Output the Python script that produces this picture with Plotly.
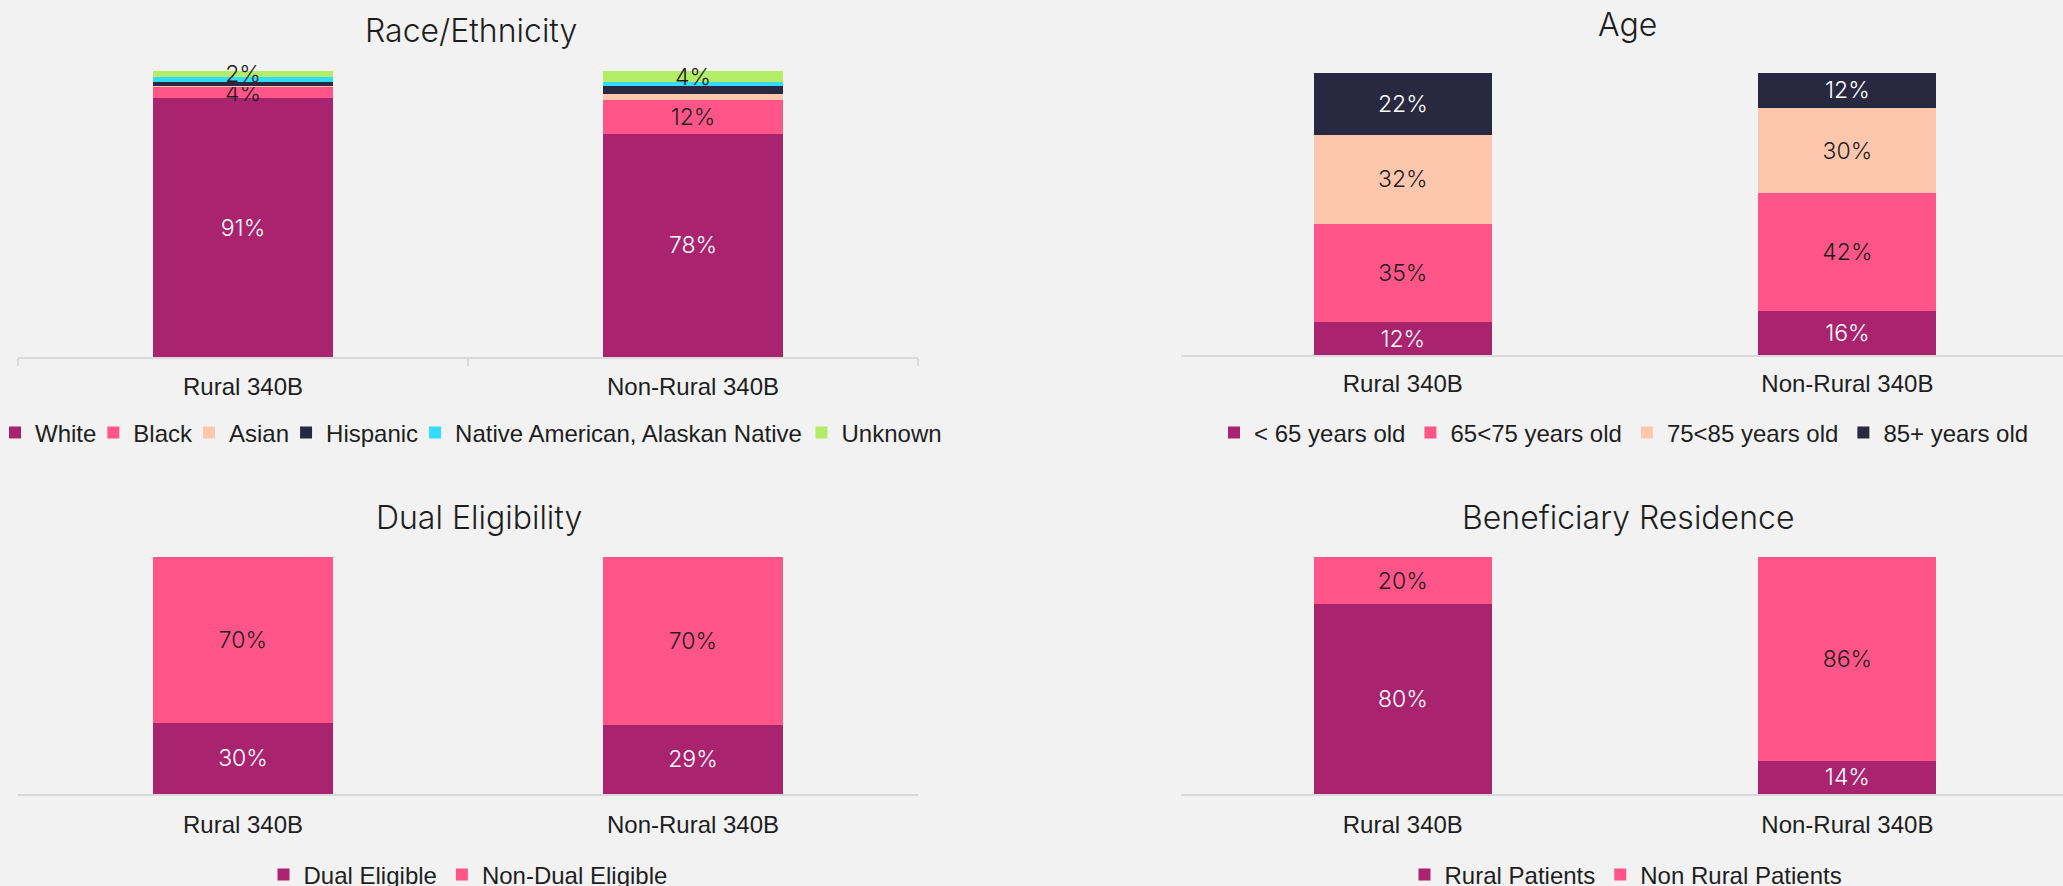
import plotly.graph_objects as go

W, H = 2063, 886

categories = ["Rural 340B", "Non-Rural 340B"]

# Race/Ethnicity (%)
race_names = ["White", "Black", "Asian", "Hispanic", "Native American, Alaskan Native", "Unknown"]
race_white = [91, 78]
race_black = [4, 12]
race_asian = [0.2, 1.8]
race_hispanic = [1.4, 2.8]
race_native = [2.0, 1.4]
race_unknown = [2, 4]
race_labeled = [True, True, False, False, False, True]

# Age (%)
age_names = ["< 65 years old", "65<75 years old", "75<85 years old", "85+ years old"]
age_u65 = [11.6, 15.6]
age_65_75 = [34.9, 41.8]
age_75_85 = [31.6, 30.2]
age_85p = [21.9, 12.4]

# Dual eligibility (%)
dual_names = ["Dual Eligible", "Non-Dual Eligible"]
dual_yes = [30, 29]
dual_no = [70, 70]

# Beneficiary residence (%)
res_names = ["Rural Patients", "Non Rural Patients"]
res_rural = [80, 14]
res_nonrural = [20, 86]

PURPLE = "#A9236F"
PINK = "#FF5589"
PEACH = "#FFC6AE"
NAVY = "#282840"
CYAN = "#33DBFF"
GREEN = "#B3EC67"
DARK = "#1E1E1E"
BG = "#F2F2F2"
AXIS = "#D9D9D9"

LABEL_FONT = "Inter"
TEXT_FONT = "Liberation Sans, Arial"
LEGEND_SIZE = 24

# Arial/Liberation Sans advance widths (1/1000 em), used to tighten legend spacing
_AW = {" ": 278, ",": 278, "-": 333, "<": 584, "+": 584,
       "A": 667, "B": 667, "D": 722, "E": 667, "H": 722, "N": 722, "P": 667,
       "R": 722, "U": 722, "W": 944,
       "a": 556, "b": 556, "c": 500, "d": 556, "e": 556, "g": 556, "h": 556,
       "i": 222, "k": 500, "l": 222, "m": 833, "n": 556, "o": 556, "p": 556,
       "r": 333, "s": 500, "t": 278, "u": 556, "v": 500, "w": 722, "y": 500}


def text_width(s, size):
    return sum(_AW.get(c, 556) for c in s) * size / 1000.0


fig = go.Figure()


def fmt(v):
    return f"{v:.0f}%"


def add_series(names, series, colors, text_colors, labeled, xa, ya, legend, tighten=0):
    n = len(names)
    for i, (name, vals, col, tcol, lab) in enumerate(zip(names, series, colors, text_colors, labeled)):
        kw = {}
        if tighten and i < n - 1:
            kw["legendwidth"] = max(1, text_width(name, LEGEND_SIZE) - tighten)
        fig.add_trace(go.Bar(
            x=categories, y=vals, name=name,
            marker=dict(color=col, line=dict(width=0)),
            text=[fmt(v) if lab else "" for v in vals],
            textposition="inside", insidetextanchor="middle",
            textangle=0, constraintext="none", cliponaxis=False,
            textfont=dict(family=LABEL_FONT, size=23, color=tcol, weight=300),
            xaxis=xa, yaxis=ya, legend=legend,
            hoverinfo="skip", **kw
        ))


add_series(race_names,
           [race_white, race_black, race_asian, race_hispanic, race_native, race_unknown],
           [PURPLE, PINK, PEACH, NAVY, CYAN, GREEN],
           ["#FFFFFF", DARK, DARK, "#FFFFFF", DARK, DARK],
           race_labeled, "x", "y", "legend", tighten=8)
add_series(age_names, [age_u65, age_65_75, age_75_85, age_85p],
           [PURPLE, PINK, PEACH, NAVY],
           ["#FFFFFF", DARK, DARK, "#FFFFFF"],
           [True] * 4, "x2", "y2", "legend2")
add_series(dual_names, [dual_yes, dual_no], [PURPLE, PINK],
           ["#FFFFFF", DARK], [True] * 2, "x3", "y3", "legend3")
add_series(res_names, [res_rural, res_nonrural], [PURPLE, PINK],
           ["#FFFFFF", DARK], [True] * 2, "x4", "y4", "legend4")


def px(p):
    return p / W


def py(p):
    return 1 - p / H


left_dom = [px(18), px(918)]
right_dom = [px(1180.5), 1.0]


def xaxis_cfg(domain, anchor, rng, standoff, ticks=False):
    d = dict(domain=domain, anchor=anchor, range=rng, type="category",
             showline=True, linecolor=AXIS, linewidth=2,
             showgrid=False, zeroline=False,
             tickfont=dict(family=TEXT_FONT, size=24, color=DARK),
             ticklabelstandoff=standoff,
             fixedrange=True)
    if ticks:
        d.update(ticks="outside", tickson="boundaries", ticklen=7,
                 tickcolor=AXIS, tickwidth=2)
    else:
        d.update(ticks="")
    return d


def yaxis_cfg(domain, anchor):
    return dict(domain=domain, anchor=anchor, range=[0, 100], visible=False,
                showgrid=False, zeroline=False, fixedrange=True)


legend_common = dict(orientation="h", xanchor="center", yanchor="middle",
                     bgcolor="rgba(0,0,0,0)", traceorder="normal",
                     font=dict(family=TEXT_FONT, size=LEGEND_SIZE, color=DARK))

fig.update_layout(
    width=W, height=H,
    paper_bgcolor=BG, plot_bgcolor=BG,
    margin=dict(l=0, r=0, t=0, b=0, autoexpand=False),
    barmode="stack", barnorm="percent", bargap=0.6,
    showlegend=True,
    xaxis=xaxis_cfg(left_dom, "y", [-0.5, 1.5], 7, ticks=True),
    yaxis=yaxis_cfg([py(357), py(71)], "x"),
    xaxis2=xaxis_cfg(right_dom, "y2", [-0.5, 1.485], 6),
    yaxis2=yaxis_cfg([py(355), py(73)], "x2"),
    xaxis3=xaxis_cfg(left_dom, "y3", [-0.5, 1.5], 8),
    yaxis3=yaxis_cfg([py(794), py(557)], "x3"),
    xaxis4=xaxis_cfg(right_dom, "y4", [-0.5, 1.485], 8),
    yaxis4=yaxis_cfg([py(794), py(557)], "x4"),
    legend=dict(legend_common, x=px(471), y=py(433)),
    legend2=dict(legend_common, x=px(1624), y=py(433)),
    legend3=dict(legend_common, x=px(468), y=py(875)),
    legend4=dict(legend_common, x=px(1626), y=py(875)),
)

titles = [("Race/Ethnicity", 471, 30), ("Age", 1627, 24),
          ("Dual Eligibility", 479, 517), ("Beneficiary Residence", 1628, 517)]
for t, cx, cy in titles:
    fig.add_annotation(text=t, x=px(cx), y=py(cy), xref="paper", yref="paper",
                       xanchor="center", yanchor="middle", showarrow=False,
                       font=dict(family=LABEL_FONT, size=32, color=DARK, weight=300))

fig.write_html("out.html", include_plotlyjs=True,
               config={"displayModeBar": False},
               post_script="document.body.style.margin='0';document.body.style.overflow='hidden';")
